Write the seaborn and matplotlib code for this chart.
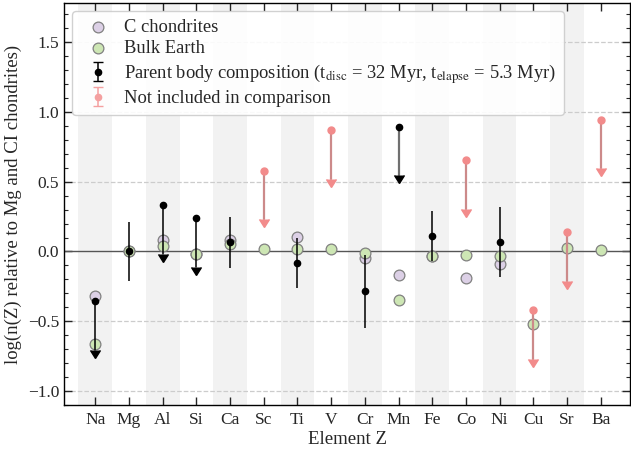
import numpy as np
import pandas as pd
import matplotlib
matplotlib.use("Agg")
import matplotlib.pyplot as plt
import seaborn as sns

elements = ["Na", "Mg", "Al", "Si", "Ca", "Sc", "Ti", "V", "Cr", "Mn", "Fe", "Co", "Ni", "Cu", "Sr", "Ba"]
c_chondrites = [-0.32, 0.0, 0.08, -0.02, 0.08, np.nan, 0.10, np.nan, -0.05, -0.17, -0.03, -0.19, -0.09, np.nan, np.nan, np.nan]
bulk_earth = [-0.66, 0.0, 0.04, -0.02, 0.05, 0.015, 0.015, 0.02, -0.01, -0.35, -0.03, -0.025, -0.03, -0.52, 0.025, 0.01]

# parent body measurements with symmetric errors
pb_elements = ["Mg", "Ca", "Ti", "Cr", "Fe", "Ni"]
pb_values = [0.0, 0.065, -0.085, -0.285, 0.11, 0.07]
pb_errors = [0.21, 0.18, 0.18, 0.26, 0.18, 0.25]

# parent body upper limits
pb_ul_elements = ["Na", "Al", "Si", "Mn"]
pb_ul_values = [-0.355, 0.33, 0.24, 0.895]
ul_length = 0.35

# not included in comparison (upper limits)
ni_elements = ["Sc", "V", "Co", "Cu", "Sr", "Ba"]
ni_values = [0.58, 0.87, 0.655, -0.42, 0.14, 0.945]

sns.set_style("white")
plt.rcParams["font.family"] = ["Liberation Serif", "DejaVu Serif"]
plt.rcParams["mathtext.fontset"] = "stix"
plt.rcParams["xtick.direction"] = "in"
plt.rcParams["ytick.direction"] = "in"

fig = plt.figure(figsize=(6.31, 4.53), dpi=100)
ax = fig.add_axes([64 / 631, 1 - 405 / 453, (630 - 64) / 631, (405 - 3) / 453])

xpos = {e: i for i, e in enumerate(elements)}

# alternating shading
for i in range(0, len(elements), 2):
    ax.axvspan(i - 0.5, i + 0.5, color="#f2f2f2", zorder=0, lw=0)

for yv in [-1.0, -0.5, 0.5, 1.0, 1.5]:
    ax.axhline(yv, color="#cccccc", ls="--", lw=0.9, zorder=0.5)
ax.axhline(0, color="#555555", lw=1.0, zorder=0.6)

df = pd.DataFrame({"x": np.arange(len(elements)), "cc": c_chondrites, "be": bulk_earth})
sns.scatterplot(data=df, x="x", y="cc", ax=ax, s=60, color="#dcd0e6", edgecolor="#808080",
                linewidth=0.9, zorder=2, label="C chondrites")
sns.scatterplot(data=df, x="x", y="be", ax=ax, s=60, color="#cde6b4", edgecolor="#808080",
                linewidth=0.9, zorder=2.1, label="Bulk Earth")

# parent body with errors
xp = [xpos[e] for e in pb_elements]
ax.errorbar(xp, pb_values, yerr=pb_errors, fmt="o", color="black", ms=4.5, elinewidth=1.1,
            capsize=0, zorder=3)

# parent body upper limits
for e, v in zip(pb_ul_elements, pb_ul_values):
    x = xpos[e]
    lc = "#707070" if e == "Mn" else "black"
    lw = 1.6 if e == "Mn" else 1.1
    ax.plot([x, x], [v, v - ul_length], color=lc, lw=lw, zorder=3)
    ax.plot([x], [v - ul_length], marker=matplotlib.markers.CARETDOWNBASE, color="black",
            ms=7.5, zorder=3.1, lw=0)
    ax.plot([x], [v], "o", color="black", ms=4.5, zorder=3.2)

# not included
for e, v in zip(ni_elements, ni_values):
    x = xpos[e]
    ax.plot([x, x], [v, v - ul_length], color="#cc8a8a", lw=1.6, zorder=3)
    ax.plot([x], [v - ul_length], marker=matplotlib.markers.CARETDOWNBASE, color="#f28b8b",
            ms=7.5, zorder=3.1, lw=0)
    ax.plot([x], [v], "o", color="#f28b8b", ms=5, zorder=3.2)

# legend proxies
ax.errorbar([np.nan], [np.nan], yerr=[0.1], fmt="o", color="black", ms=4.5, capsize=3.5,
            elinewidth=1.1, label=r"Parent body composition (t$_{\rm disc}$ = 32 Myr, t$_{\rm elapse}$ = 5.3 Myr)")
ax.errorbar([np.nan], [np.nan], yerr=[0.1], fmt="o", color="#f4a0a0", ms=4.5, capsize=3.5,
            elinewidth=1.1, label="Not included in comparison")

handles, labels = ax.get_legend_handles_labels()
leg = ax.legend(handles, labels, loc="upper left", fontsize=13.3, frameon=True, fancybox=True,
                framealpha=0.9, edgecolor="#cccccc", borderpad=0.4, labelspacing=0.25,
                handletextpad=0.42, borderaxespad=0.45, handlelength=2.0)

ax.set_xlim(-0.93, 15.87)
ax.set_ylim(-1.1, 1.78)
ax.set_xticks(range(len(elements)))
ax.set_xticklabels(elements)
ax.set_yticks([-1.0, -0.5, 0.0, 0.5, 1.0, 1.5])
ax.yaxis.set_minor_locator(matplotlib.ticker.MultipleLocator(0.1))
ax.tick_params(axis="both", which="major", labelsize=12.5, length=6, width=1.0,
               top=True, right=True, bottom=True, left=True)
ax.tick_params(axis="y", which="minor", length=3, width=0.8, left=True, right=True)
ax.tick_params(axis="x", which="major", pad=5)
for sp in ax.spines.values():
    sp.set_linewidth(1.0)
    sp.set_color("black")
ax.set_xlabel("Element Z", fontsize=13.5, labelpad=2)
ax.set_ylabel("log(n(Z) relative to Mg and CI chondrites)", fontsize=13.5, labelpad=4)

fig.savefig("out.png", dpi=100)
